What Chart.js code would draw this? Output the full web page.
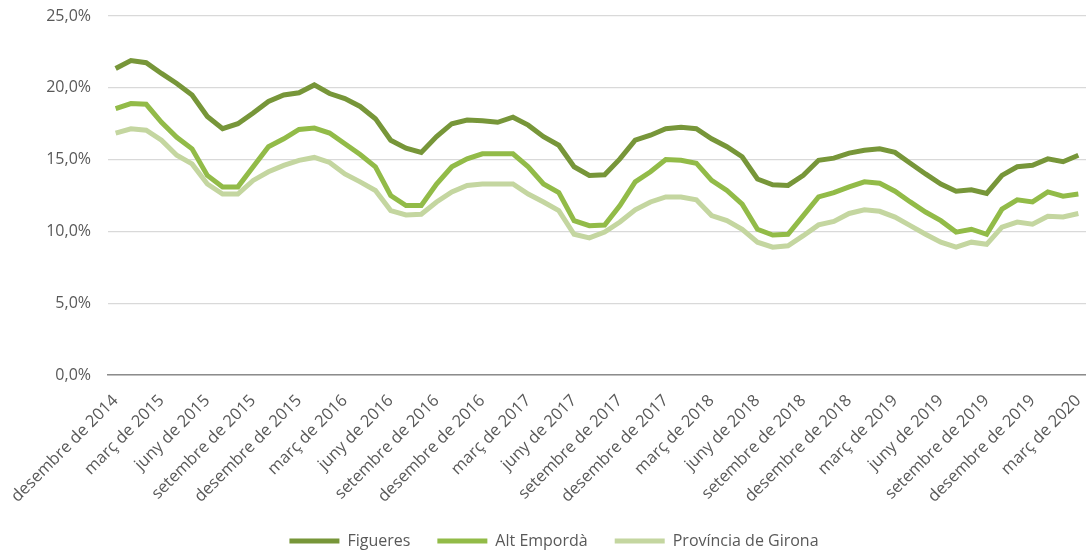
<!DOCTYPE html>
<html>
<head>
<meta charset="utf-8">
<script src="https://cdn.jsdelivr.net/npm/chart.js@4.4.0/dist/chart.umd.min.js"></script>
<style>
  html, body { margin: 0; padding: 0; background: #ffffff; }
  .chart-box { position: relative; width: 1086px; height: 554px; }
</style>
</head>
<body>
<div class="chart-box"><canvas class="atur-chart"></canvas></div>
<script>
// Categories (monthly, desembre 2014 - març 2020)
const month_labels = [
  "desembre de 2014",
  "gener de 2015", "febrer de 2015", "març de 2015", "abril de 2015", "maig de 2015", "juny de 2015",
  "juliol de 2015", "agost de 2015", "setembre de 2015", "octubre de 2015", "novembre de 2015", "desembre de 2015",
  "gener de 2016", "febrer de 2016", "març de 2016", "abril de 2016", "maig de 2016", "juny de 2016",
  "juliol de 2016", "agost de 2016", "setembre de 2016", "octubre de 2016", "novembre de 2016", "desembre de 2016",
  "gener de 2017", "febrer de 2017", "març de 2017", "abril de 2017", "maig de 2017", "juny de 2017",
  "juliol de 2017", "agost de 2017", "setembre de 2017", "octubre de 2017", "novembre de 2017", "desembre de 2017",
  "gener de 2018", "febrer de 2018", "març de 2018", "abril de 2018", "maig de 2018", "juny de 2018",
  "juliol de 2018", "agost de 2018", "setembre de 2018", "octubre de 2018", "novembre de 2018", "desembre de 2018",
  "gener de 2019", "febrer de 2019", "març de 2019", "abril de 2019", "maig de 2019", "juny de 2019",
  "juliol de 2019", "agost de 2019", "setembre de 2019", "octubre de 2019", "novembre de 2019", "desembre de 2019",
  "gener de 2020", "febrer de 2020", "març de 2020"
];

// Series values (%)
const figueres = [
  21.35, 21.9, 21.75, 21.0, 20.3, 19.5, 18.0, 17.15, 17.5, 18.25,
  19.05, 19.5, 19.65, 20.2, 19.6, 19.25, 18.7, 17.85, 16.35, 15.8,
  15.5, 16.6, 17.5, 17.75, 17.7, 17.6, 17.95, 17.4, 16.6, 16.0,
  14.5, 13.9, 13.95, 15.05, 16.35, 16.7, 17.15, 17.25, 17.15, 16.45,
  15.9, 15.2, 13.65, 13.25, 13.2, 13.9, 14.95, 15.1, 15.45, 15.65,
  15.75, 15.5, 14.75, 14.0, 13.3, 12.8, 12.9, 12.65, 13.9, 14.5,
  14.6, 15.05, 14.85, 15.3
];

const alt_emporda = [
  18.55, 18.9, 18.85, 17.6, 16.55, 15.75, 13.9, 13.1, 13.1, 14.5,
  15.9, 16.45, 17.1, 17.2, 16.85, 16.1, 15.35, 14.5, 12.5, 11.8,
  11.8, 13.3, 14.5, 15.05, 15.4, 15.4, 15.4, 14.5, 13.3, 12.7,
  10.75, 10.4, 10.45, 11.8, 13.45, 14.15, 15.0, 14.95, 14.75, 13.55,
  12.85, 11.9, 10.15, 9.75, 9.8, 11.1, 12.4, 12.7, 13.1, 13.45,
  13.35, 12.8, 12.05, 11.35, 10.75, 9.95, 10.15, 9.8, 11.55, 12.2,
  12.05, 12.75, 12.45, 12.6
];

const provincia_girona = [
  16.85, 17.15, 17.05, 16.35, 15.3, 14.7, 13.3, 12.6, 12.6, 13.55,
  14.15, 14.6, 14.95, 15.15, 14.8, 14.0, 13.45, 12.85, 11.45, 11.15,
  11.2, 12.05, 12.75, 13.2, 13.3, 13.3, 13.3, 12.6, 12.05, 11.45,
  9.8, 9.55, 9.95, 10.65, 11.5, 12.05, 12.4, 12.4, 12.2, 11.1,
  10.75, 10.15, 9.25, 8.9, 9.0, 9.7, 10.45, 10.7, 11.25, 11.5,
  11.4, 11.0, 10.4, 9.8, 9.25, 8.9, 9.25, 9.1, 10.3, 10.65,
  10.5, 11.05, 11.0, 11.25
];

// Y axis ticks (%)
const y_ticks = [0, 5, 10, 15, 20, 25];

const text_color = "#595959";
const font_family = "'Open Sans', 'Noto Sans', sans-serif";

function makeLine(label, values, color) {
  return {
    label: label,
    data: values,
    borderColor: color,
    backgroundColor: color,
    borderWidth: 5,
    pointRadius: 0,
    pointHoverRadius: 0,
    pointStyle: "line",
    tension: 0,
    fill: false,
  };
}

const ctx = document.querySelector(".atur-chart").getContext("2d");

const data = {
  labels: month_labels,
  datasets: [
    makeLine("Figueres", figueres, "#779639"),
    makeLine("Alt Empordà", alt_emporda, "#92bb48"),
    makeLine("Província de Girona", provincia_girona, "#c4d6a0"),
  ],
};

const config = {
  type: "line",
  data: data,
  options: {
    responsive: true,
    maintainAspectRatio: false,
    animation: false,
    layout: {
      padding: { top: 16, left: 22, right: 0, bottom: -5 },
    },
    plugins: {
      legend: {
        position: "bottom",
        labels: {
          usePointStyle: true,
          pointStyleWidth: 50,
          padding: 27,
          color: text_color,
          font: { family: font_family, size: 16 },
        },
      },
      tooltip: { enabled: false },
    },
    scales: {
      y: {
        min: y_ticks[0],
        max: y_ticks[y_ticks.length - 1],
        afterBuildTicks: (scale) => {
          scale.ticks = y_ticks.map((v) => ({ value: v }));
        },
        afterFit: (scale) => {
          scale.width = 86;
          scale.paddingTop = 0;
          scale.paddingBottom = 0;
        },
        ticks: {
          padding: 17,
          color: text_color,
          font: { family: font_family, size: 16 },
          callback: (value) => value.toFixed(1).replace(".", ",") + "%",
        },
        grid: { color: "#d9d9d9", lineWidth: 1.3, drawTicks: false },
        border: { display: false },
      },
      x: {
        offset: true,
        afterFit: (scale) => {
          scale.paddingLeft = 0;
          scale.paddingRight = 0;
          scale.height = 131;
        },
        ticks: {
          autoSkip: false,
          minRotation: 45,
          maxRotation: 45,
          padding: 16,
          color: text_color,
          font: { family: font_family, size: 16.5 },
          callback: function (value, index) {
            return index % 3 === 0 ? month_labels[index] : "";
          },
        },
        grid: { display: false, drawTicks: false },
        border: { display: true, color: "#8c8c8c", width: 1.6 },
      },
    },
  },
};

const aturChart = new Chart(ctx, config);
</script>
</body>
</html>
